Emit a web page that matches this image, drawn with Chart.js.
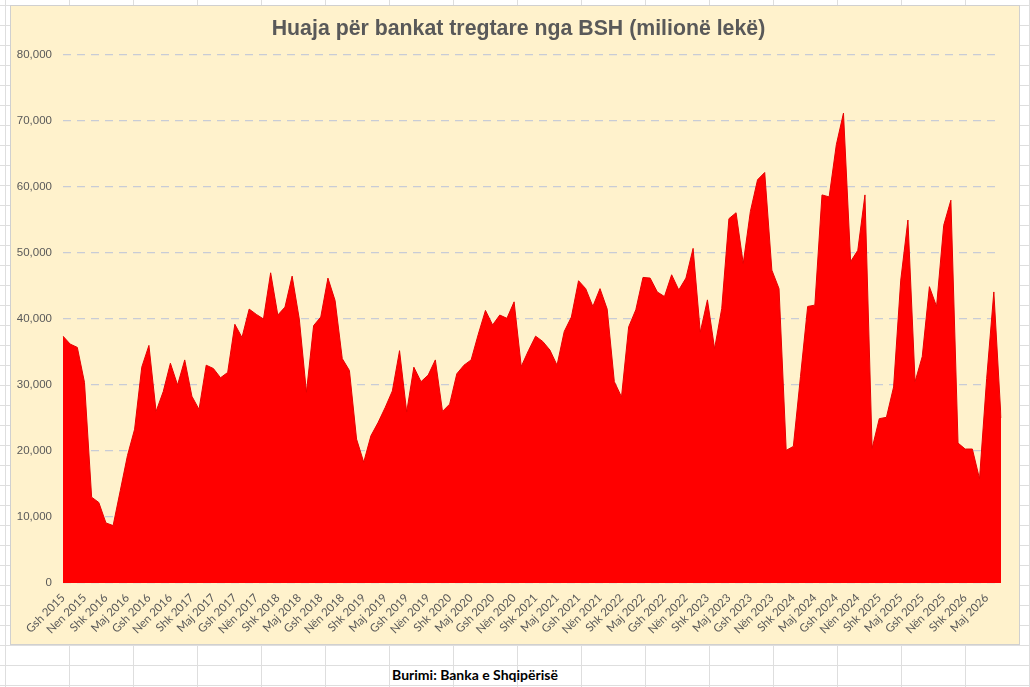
<!DOCTYPE html>
<html>
<head>
<meta charset="utf-8">
<script src="https://cdn.jsdelivr.net/npm/chart.js@4.4.1/dist/chart.umd.min.js"></script>
<style>
  html, body {
    margin: 0;
    padding: 0;
    width: 1030px;
    height: 687px;
    overflow: hidden;
  }
  body {
    background-color: #ffffff;
    background-image:
      linear-gradient(to right, #dedede 1px, transparent 1px),
      linear-gradient(to bottom, #dedede 1px, transparent 1px);
    background-size: 64px 20px;
    background-position: 5px 5px;
    position: relative;
  }
  #chart-box {
    position: absolute;
    left: 10px;
    top: 5px;
    width: 1010px;
    height: 640px;
    background: #fff2cc;
    border: 1px solid #d0d0d0;
    box-sizing: border-box;
  }
  #title {
    position: absolute;
    left: 218px;
    top: 15px;
    width: 601px;
    height: 26px;
    line-height: 26px;
    text-align: center;
    font-family: "Liberation Sans", Arial, sans-serif;
    font-weight: bold;
    font-size: 21.3px;
    color: #595959;
    white-space: nowrap;
  }
  #source {
    position: absolute;
    left: 355px;
    top: 665px;
    width: 240px;
    height: 20px;
    line-height: 20px;
    text-align: center;
    font-family: Lato, "Open Sans", sans-serif;
    font-weight: bold;
    font-size: 14px;
    color: #000;
  }
</style>
</head>
<body>
<div id="chart-box"><canvas id="loansChart"></canvas></div>
<div id="title">Huaja për bankat tregtare nga BSH (milionë lekë)</div>
<div id="source">Burimi: Banka e Shqipërisë</div>

<script>
// labels shown on the axis, one every 3 months (Aug 2015 .. May 2026)
const tickLabels = [
  "Gsh 2015", "Nen 2015", "Shk 2016", "Maj 2016", "Gsh 2016", "Nen 2016",
  "Shk 2017", "Maj 2017", "Gsh 2017", "Nën 2017", "Shk 2018", "Maj 2018",
  "Gsh 2018", "Nën 2018", "Shk 2019", "Maj 2019", "Gsh 2019", "Nën 2019",
  "Shk 2020", "Maj 2020", "Gsh 2020", "Nën 2020", "Shk 2021", "Maj 2021",
  "Gsh 2021", "Nën 2021", "Shk 2022", "Maj 2022", "Gsh 2022", "Nën 2022",
  "Shk 2023", "Maj 2023", "Gsh 2023", "Nën 2023", "Shk 2024", "Maj 2024",
  "Gsh 2024", "Nën 2024", "Shk 2025", "Maj 2025", "Gsh 2025", "Nën 2025",
  "Shk 2026", "Maj 2026"
];

// monthly loans (million lek), Aug 2015 .. Jul 2026
const loans = [
  37400, 36200, 35700, 30400, 13000, 12200,  9100,  8700, 14000, 19300, 23300, 32700,
  36000, 26000, 29000, 33300, 30000, 33800, 28300, 26300, 33000, 32500, 31100, 31900,
  39200, 37200, 41500, 40700, 40000, 47000, 40600, 41800, 46500, 40000, 28900, 39000,
  40300, 46200, 42800, 34000, 32200, 21800, 18300, 22300, 24300, 26600, 29100, 35200,
  25900, 32700, 30500, 31500, 33800, 26000, 27100, 31700, 33000, 33800, 37700, 41300,
  39100, 40600, 40100, 42600, 32800, 35200, 37400, 36600, 35300, 33000, 38100, 40300,
  45800, 44600, 41900, 44600, 41500, 30500, 28200, 38800, 41400, 46300, 46200, 44100,
  43400, 46700, 44400, 46200, 50700, 38000, 42900, 35500, 41600, 55200, 56100, 48400,
  56300, 61100, 62200, 47400, 44600, 20100, 20700, 31300, 41900, 42100, 58800, 58500,
  66400, 71200, 48700, 50400, 58800, 20400, 24900, 25100, 29700, 45900, 55000, 30500,
  34300, 44900, 41900, 54200, 58000, 21200, 20300, 20300, 15800, 31000, 44100, 25000
];

// one category per month, labelled every third month
const categories = loans.map((v, i) => (i % 3 === 0 ? tickLabels[i / 3] : ""));

const ctx = document.getElementById("loansChart").getContext("2d");

new Chart(ctx, {
  type: "line",
  data: {
    labels: categories,
    datasets: [{
      data: loans,
      fill: "origin",
      backgroundColor: "#ff0000",
      borderColor: "#e60000",
      borderWidth: 1,
      pointRadius: 0,
      tension: 0
    }]
  },
  options: {
    responsive: true,
    maintainAspectRatio: false,
    animation: false,
    layout: {
      padding: { left: 0, right: 18, top: 49, bottom: 0 }
    },
    plugins: {
      legend: { display: false },
      tooltip: { enabled: false },
      title: { display: false }
    },
    scales: {
      x: {
        grid: { display: false, drawTicks: false },
        border: { display: false },
        ticks: {
          autoSkip: false,
          minRotation: 45,
          maxRotation: 45,
          padding: 8,
          color: "#595959",
          font: { family: "Lato, 'Open Sans', sans-serif", size: 11.5 }
        },
        afterFit: (scale) => { scale.height = 61; }
      },
      y: {
        min: 0,
        max: 80000,
        grid: {
          color: "#c8ccd6",
          lineWidth: 1.3,
          drawTicks: false
        },
        border: { display: false, dash: [8, 6] },
        ticks: {
          stepSize: 10000,
          padding: 11,
          color: "#595959",
          font: { family: "'Liberation Sans', Arial, sans-serif", size: 11.5 },
          callback: (v) => v.toLocaleString("en-US")
        },
        afterFit: (scale) => { scale.width = 52; }
      }
    }
  }
});
</script>
</body>
</html>
